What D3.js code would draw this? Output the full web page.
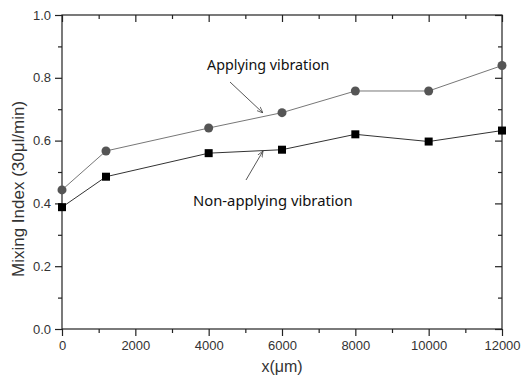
<!DOCTYPE html>
<html>
<head>
<meta charset="utf-8">
<script src="https://cdn.jsdelivr.net/npm/d3@7"></script>
<style>
  body { margin: 0; background: #fff; }
  svg text { font-family: "Liberation Sans", Arial, sans-serif; }
</style>
</head>
<body>
<div class="chart"></div>
<script>
// data
const xs = [0, 1200, 4000, 6000, 8000, 10000, 12000];
const applying = [0.443, 0.567, 0.640, 0.689, 0.758, 0.758, 0.839];
const nonApplying = [0.388, 0.485, 0.560, 0.571, 0.620, 0.597, 0.632];
const xTicks = [0, 2000, 4000, 6000, 8000, 10000, 12000];
const yTicks = [0.0, 0.2, 0.4, 0.6, 0.8, 1.0];

const svgWidth = 522, svgHeight = 379;
const margin = {top: 15, right: 20, bottom: 50, left: 62};
const graphWidth = 502 - margin.left;
const graphHeight = 329 - margin.top;

const svg = d3.select('.chart')
  .append('svg')
  .attr('width', svgWidth)
  .attr('height', svgHeight);

const graph = svg.append('g')
  .attr('transform', `translate(${margin.left},${margin.top})`);

const x = d3.scaleLinear().domain([0, 12000]).range([0, graphWidth]);
const y = d3.scaleLinear().domain([0, 1]).range([graphHeight, 0]);

const minorX = d3.range(1000, 12000, 2000);
const minorY = d3.range(0.1, 1.0, 0.2);

// frame
graph.append('rect')
  .attr('width', graphWidth)
  .attr('height', graphHeight)
  .attr('fill', 'none')
  .attr('stroke', '#222')
  .attr('stroke-width', 1.2);

const styleAxis = g => {
  g.select('.domain').remove();
  g.selectAll('line').attr('stroke', '#222').attr('stroke-width', 1.2);
  g.selectAll('text').attr('fill', '#333').style('font-size', '13px');
};

// bottom axis (outward ticks)
graph.append('g')
  .attr('transform', `translate(0,${graphHeight})`)
  .call(d3.axisBottom(x).tickValues(xTicks).tickSize(7).tickPadding(5).tickFormat(d3.format('d')))
  .call(styleAxis);
graph.append('g')
  .attr('transform', `translate(0,${graphHeight})`)
  .call(d3.axisBottom(x).tickValues(minorX).tickSize(4).tickFormat(''))
  .call(styleAxis);

// left axis (outward ticks)
graph.append('g')
  .call(d3.axisLeft(y).tickValues(yTicks).tickSize(7).tickPadding(4).tickFormat(d3.format('.1f')))
  .call(styleAxis);
graph.append('g')
  .call(d3.axisLeft(y).tickValues(minorY).tickSize(4).tickFormat(''))
  .call(styleAxis);

// top and right mirrored ticks (inward)
graph.append('g')
  .call(d3.axisTop(x).tickValues(xTicks).tickSize(-7).tickFormat(''))
  .call(styleAxis);
graph.append('g')
  .call(d3.axisTop(x).tickValues(minorX).tickSize(-4).tickFormat(''))
  .call(styleAxis);
graph.append('g')
  .attr('transform', `translate(${graphWidth},0)`)
  .call(d3.axisRight(y).tickValues(yTicks).tickSize(-7).tickFormat(''))
  .call(styleAxis);
graph.append('g')
  .attr('transform', `translate(${graphWidth},0)`)
  .call(d3.axisRight(y).tickValues(minorY).tickSize(-4).tickFormat(''))
  .call(styleAxis);

// axis titles
svg.append('text')
  .attr('x', margin.left + graphWidth / 2)
  .attr('y', 372)
  .attr('text-anchor', 'middle')
  .attr('fill', '#333')
  .style('font-size', '16px')
  .text('x(μm)');

svg.append('text')
  .attr('transform', `translate(24,${margin.top + graphHeight / 2 + 17}) rotate(-90)`)
  .attr('text-anchor', 'middle')
  .attr('fill', '#333')
  .style('font-size', '17px')
  .text('Mixing Index (30μl/min)');

// lines
const line = d3.line()
  .x((d, i) => x(xs[i]))
  .y(d => y(d));

graph.append('path')
  .datum(applying)
  .attr('fill', 'none')
  .attr('stroke', '#777')
  .attr('stroke-width', 1)
  .attr('d', line);

graph.append('path')
  .datum(nonApplying)
  .attr('fill', 'none')
  .attr('stroke', '#333')
  .attr('stroke-width', 1)
  .attr('d', line);

// markers
graph.selectAll('.dot')
  .data(applying)
  .enter()
  .append('circle')
  .attr('class', 'dot')
  .attr('cx', (d, i) => x(xs[i]))
  .attr('cy', d => y(d))
  .attr('r', 4.5)
  .attr('fill', '#555');

graph.selectAll('.sq')
  .data(nonApplying)
  .enter()
  .append('rect')
  .attr('class', 'sq')
  .attr('x', (d, i) => x(xs[i]) - 4)
  .attr('y', d => y(d) - 4)
  .attr('width', 8)
  .attr('height', 8)
  .attr('fill', '#000');

// annotations
const defs = svg.append('defs');
defs.append('marker')
  .attr('id', 'arrow')
  .attr('viewBox', '0 0 10 10')
  .attr('refX', 10)
  .attr('refY', 5)
  .attr('markerWidth', 7)
  .attr('markerHeight', 7)
  .attr('orient', 'auto')
  .append('path')
  .attr('d', 'M0,1 L10,5 L0,9')
  .attr('fill', 'none')
  .attr('stroke', '#444')
  .attr('stroke-width', 1.2);

svg.append('text')
  .attr('x', 207)
  .attr('y', 70)
  .attr('fill', '#111')
  .style('font-family', '"Noto Sans", sans-serif')
  .style('font-size', '14.3px')
  .text('Applying vibration');

svg.append('line')
  .attr('x1', 230).attr('y1', 82)
  .attr('x2', 263).attr('y2', 113)
  .attr('stroke', '#444')
  .attr('stroke-width', 0.9)
  .attr('marker-end', 'url(#arrow)');

svg.append('text')
  .attr('x', 193)
  .attr('y', 206)
  .attr('fill', '#111')
  .style('font-family', '"Noto Sans", sans-serif')
  .style('font-size', '14.8px')
  .text('Non-applying vibration');

svg.append('line')
  .attr('x1', 246).attr('y1', 180)
  .attr('x2', 263).attr('y2', 151)
  .attr('stroke', '#444')
  .attr('stroke-width', 0.9)
  .attr('marker-end', 'url(#arrow)');
</script>
</body>
</html>
